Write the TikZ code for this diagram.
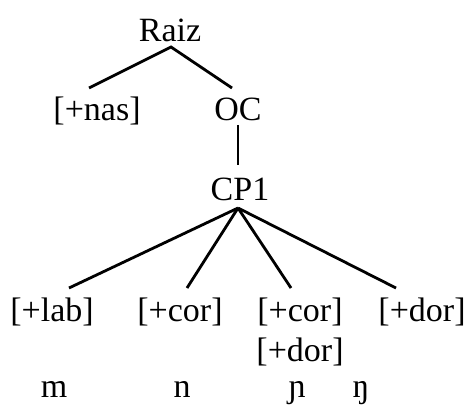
\documentclass[tikz,border=0pt]{standalone}
\usepackage{fontspec}
\setmainfont{Liberation Serif}
\begin{document}
\begin{tikzpicture}[x=1pt,y=-1pt,
  lbl/.style={anchor=base,inner sep=0pt,outer sep=0pt,text height=22pt,text depth=7pt,font=\fontsize{34}{40}\selectfont},
  branch/.style={line width=2.8pt}]
\useasboundingbox (0,0) rectangle (470,406);
\node[lbl] (raiz) at (170,42) {Raiz};
\node[lbl] (nas) at (97,121) {[+nas]};
\node[lbl] (oc) at (238,121) {OC};
\node[lbl] (cp) at (240,200) {CP1};
\node[lbl] (lab) at (52,321) {[+lab]};
\node[lbl] (cor) at (180,321) {[+cor]};
\node[lbl] (cordor) at (300,321) {[+cor]};
\node[lbl] (dortwo) at (300,361) {[+dor]};
\node[lbl] (dor) at (422,321) {[+dor]};
\node[lbl] (m) at (54,397) {m};
\node[lbl] (n) at (182,397) {n};
\node[lbl] (ny) at (297,397) {ɲ};
\node[lbl] (ng) at (361,397) {ŋ};
\draw[branch] ([shift={(-8pt,11pt)}]nas.north) -- ([shift={(1pt,2pt)}]raiz.south) -- ([shift={(-6pt,11pt)}]oc.north);
\draw[branch] ([shift={(0pt,3pt)}]oc.south) -- ([shift={(-2pt,13pt)}]cp.north);
\draw[branch] ([shift={(-2pt,-1pt)}]cp.south) -- ([shift={(17pt,11pt)}]lab.north);
\draw[branch] ([shift={(-2pt,-1pt)}]cp.south) -- ([shift={(7pt,11pt)}]cor.north);
\draw[branch] ([shift={(-2pt,-1pt)}]cp.south) -- ([shift={(-9pt,11pt)}]cordor.north);
\draw[branch] ([shift={(-2pt,-1pt)}]cp.south) -- ([shift={(-26pt,11pt)}]dor.north);
\end{tikzpicture}
\end{document}
